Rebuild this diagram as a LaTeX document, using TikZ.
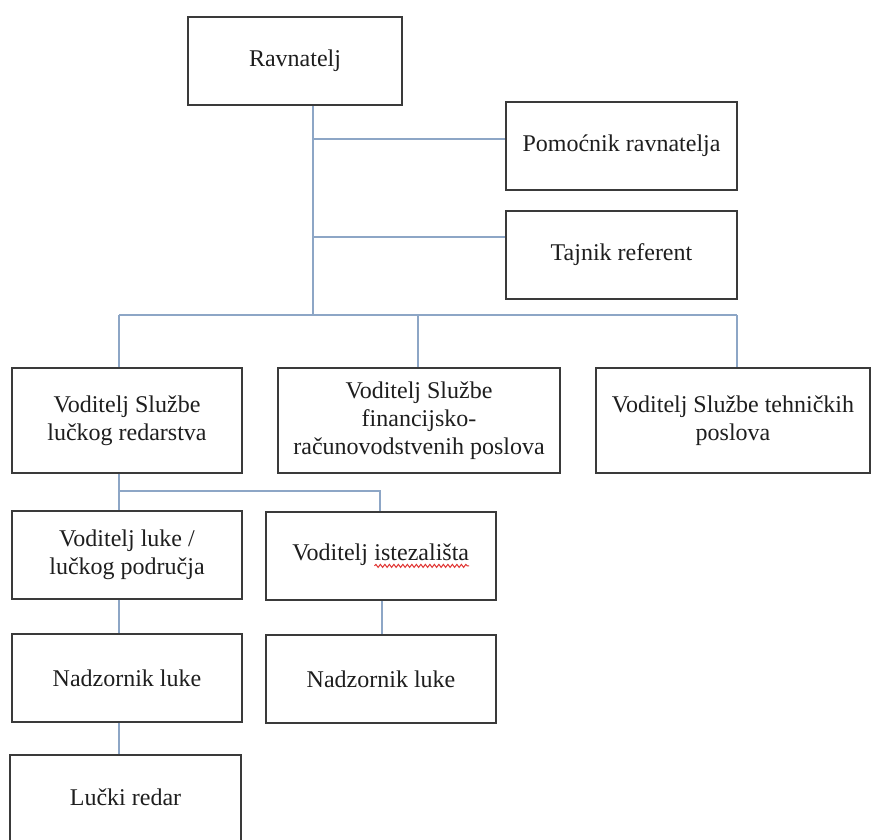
\documentclass[tikz,border=0pt]{standalone}
\usepackage{fontspec}
\setmainfont{Liberation Serif}
\usetikzlibrary{decorations.pathmorphing}
\definecolor{linkblue}{HTML}{8DA6C6}
\definecolor{boxgray}{HTML}{3A3A3A}
\definecolor{txt}{HTML}{1E1E1E}
\definecolor{squig}{HTML}{E0302E}
\tikzset{
  orgbox/.style={draw=boxgray, line width=1.6pt, rectangle, inner sep=0pt, align=center,
    text=txt, font=\fontsize{24}{28}\selectfont},
  link/.style={draw=linkblue, line width=1.4pt},
}
\begin{document}
\begin{tikzpicture}[x=1pt, y=-1pt]
\useasboundingbox (0,0) rectangle (872,839);
\fill[white] (0,0) rectangle (872,839);

\node[orgbox, minimum width=214pt, minimum height=88pt] (rav) at (295,61) {Ravnatelj};
\node[orgbox, minimum width=231pt, minimum height=88pt] (pom) at (621.5,146) {Pomoćnik ravnatelja};
\node[orgbox, minimum width=231pt, minimum height=88pt] (taj) at (621.5,255) {Tajnik referent};

\node[orgbox, minimum width=230pt, minimum height=105pt] (red) at (127,420.5) {Voditelj Službe\\lučkog redarstva};
\node[orgbox, minimum width=282pt, minimum height=105pt] (fin) at (419,420.5) {Voditelj Službe\\financijsko-\\računovodstvenih poslova};
\node[orgbox, minimum width=274pt, minimum height=105pt] (teh) at (733,420.5) {Voditelj Službe tehničkih\\poslova};

\node[orgbox, minimum width=230pt, minimum height=88pt] (vl) at (127,555) {Voditelj luke /\\lučkog područja};
\node[orgbox, minimum width=230pt, minimum height=88pt] (vi) at (381,556) {Voditelj \tikz[baseline=(w.base)]{\node[inner sep=0pt, outer sep=0pt, draw=none, minimum width=0pt, minimum height=0pt, line width=0.4pt] (w) {istezališta}; \draw[squig, line width=1pt, decorate, decoration={snake, amplitude=1.5pt, segment length=4.5pt}] ([yshift=-5pt]w.base west) -- ([yshift=-5pt]w.base east);}};

\node[orgbox, minimum width=230pt, minimum height=88pt] (n1) at (127,678) {Nadzornik luke};
\node[orgbox, minimum width=230pt, minimum height=88pt] (n2) at (381,679) {Nadzornik luke};

\node[orgbox, minimum width=231pt, minimum height=100pt] (lr) at (125.5,805) {};
\node[text=txt, font=\fontsize{24}{28}\selectfont, inner sep=0pt] (lrt) at (125.5,797) {Lučki redar};

% connector coordinates
\coordinate (trunk) at (313,315);
\coordinate (c1) at (119,315);
\coordinate (c2) at (418,315);
\coordinate (c3) at (737,315);
\coordinate (s1) at (119,491);
\coordinate (s2) at (380,491);

\draw[link] (rav.south -| trunk) -- (trunk);
\draw[link] (pom.west |- 0,139) -- (trunk |- 0,139);
\draw[link] (taj.west |- 0,237) -- (trunk |- 0,237);
\draw[link] (c1) -- (c3);
\draw[link] (c1) -- (red.north -| c1);
\draw[link] (c2) -- (fin.north -| c2);
\draw[link] (c3) -- (teh.north -| c3);

\draw[link] (red.south -| s1) -- (s1) -- (s2) -- (vi.north -| s2);
\draw[link] (s1) -- (vl.north -| s1);
\draw[link] (vl.south -| s1) -- (n1.north -| s1);
\draw[link] (vi.south -| 382,0) -- (n2.north -| 382,0);
\draw[link] (n1.south -| s1) -- (lr.north -| s1);
\end{tikzpicture}
\end{document}
